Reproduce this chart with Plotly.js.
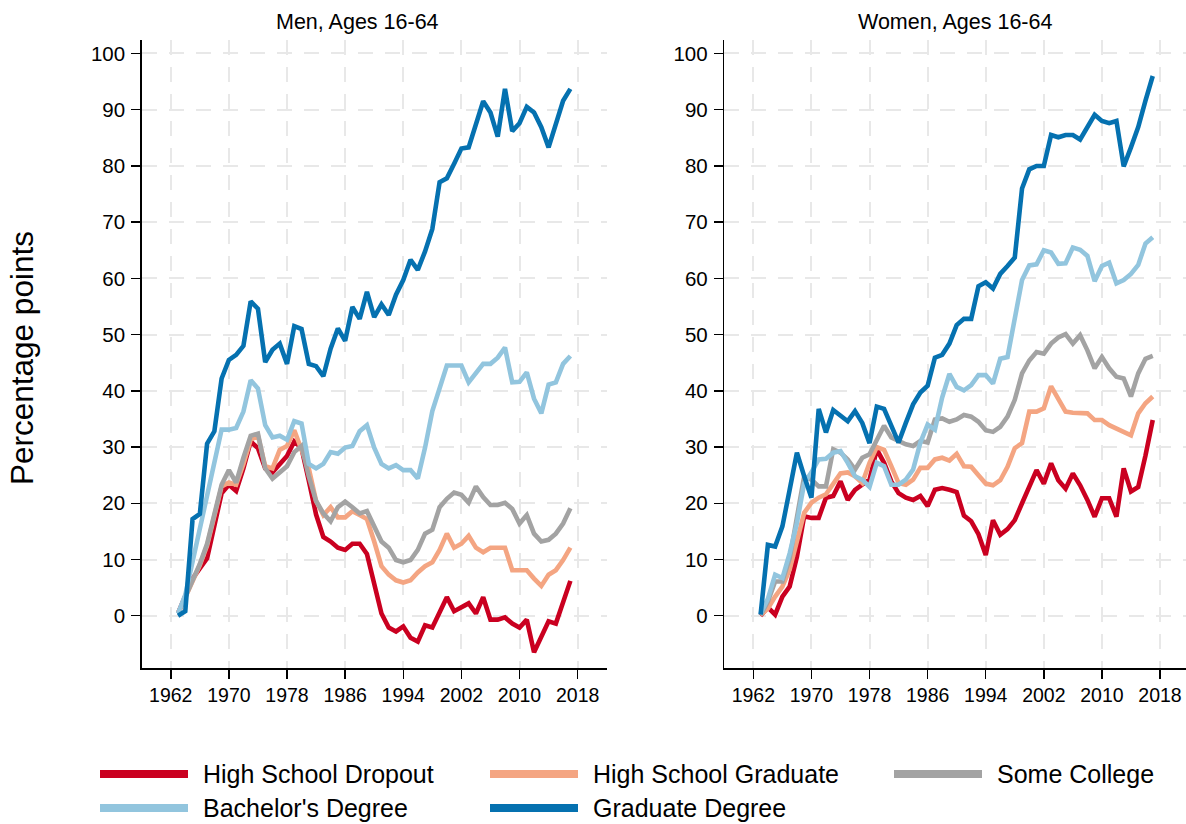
<!DOCTYPE html>
<html>
<head>
<meta charset="utf-8">
<script src="https://cdn.plot.ly/plotly-3.0.1.min.js"></script>
<style>
  html, body { margin: 0; padding: 0; background: #ffffff; }
  #chart { width: 1186px; height: 824px; }
</style>
</head>
<body>
<div id="chart"></div>
<script>
// ---------------- DATA ----------------
const years = [1963,1964,1965,1966,1967,1968,1969,1970,1971,1972,1973,1974,1975,1976,1977,1978,1979,1980,
  1981,1982,1983,1984,1985,1986,1987,1988,1989,1990,1991,1992,1993,1994,1995,1996,1997,1998,1999,2000,
  2001,2002,2003,2004,2005,2006,2007,2008,2009,2010,2011,2012,2013,2014,2015,2016,2017];

const seriesNames = ["High School Dropout", "High School Graduate", "Some College", "Bachelor's Degree", "Graduate Degree"];
const seriesColors = ["#ca0020", "#f4a582", "#a3a3a3", "#92c5de", "#0571b0"];

const panelTitles = ["Men, Ages 16-64", "Women, Ages 16-64"];
const yAxisTitle = "Percentage points";
const xTickVals = [1962, 1970, 1978, 1986, 1994, 2002, 2010, 2018];
const yTickVals = [0, 10, 20, 30, 40, 50, 60, 70, 80, 90, 100];

// Men
const menDropout = [0.4,3.3,6.6,8.4,10.2,16.0,21.8,23.3,22.2,26.2,31.0,29.8,26.2,25.5,26.9,28.4,31.0,29.8,
  24.0,18.0,14.0,13.2,12.1,11.7,12.8,12.8,11.0,5.9,0.4,-2.1,-2.8,-1.9,-3.9,-4.6,-1.7,-2.1,0.4,3.3,
  0.8,1.5,2.2,0.4,3.3,-0.7,-0.7,-0.3,-1.4,-2.1,-0.7,-6.5,-3.9,-1.0,-1.4,2.5,6.2];
const menHSGrad = [0.4,3.3,6.3,9.0,12.5,17.5,23.0,23.7,23.3,27.0,31.3,32.0,26.6,26.2,29.5,30.2,33.0,29.5,
  26.2,20.4,17.9,19.3,17.5,17.5,18.6,17.9,17.2,13.2,8.8,7.3,6.3,5.9,6.3,7.7,8.8,9.5,11.7,14.6,
  12.1,12.8,14.2,12.1,11.3,12.1,12.1,12.1,8.1,8.1,8.1,6.6,5.3,7.3,8.1,9.9,12.1];
const menSomeCollege = [0.4,3.3,6.6,9.2,12.8,18.2,23.3,25.9,23.7,28.1,32.0,32.4,26.2,24.4,25.5,26.6,29.1,30.2,
  24.8,20.4,18.2,16.8,19.3,20.3,19.3,18.2,18.6,16.1,13.2,12.1,9.9,9.5,9.9,11.7,14.6,15.3,19.3,20.8,
  21.9,21.5,20.1,23.0,21.1,19.7,19.7,20.1,19.0,16.4,17.9,14.6,13.2,13.5,14.6,16.4,19.1];
const menBachelor = [0.4,3.7,9.6,15.5,21.4,27.3,33.1,33.1,33.4,36.3,41.9,40.4,33.9,31.7,32.0,31.3,34.6,34.2,
  27.0,26.2,27.0,29.1,28.8,29.9,30.2,32.8,33.9,29.9,27.0,26.2,26.8,25.9,25.9,24.4,29.9,36.4,40.8,44.5,
  44.5,44.5,41.5,43.1,44.8,44.8,45.9,47.7,41.5,41.6,43.3,38.6,36.0,41.1,41.5,44.8,46.2];
const menGraduate = [0.0,0.8,17.2,18.1,30.6,32.8,42.2,45.5,46.4,48.0,55.9,54.6,45.1,47.3,48.4,44.8,51.5,51.0,
  44.8,44.4,42.6,47.5,51.1,48.9,54.9,52.8,57.6,53.1,55.4,53.5,57.1,59.7,63.3,61.5,64.8,68.8,77.1,77.8,
  80.4,83.1,83.3,87.3,91.5,89.5,85.2,93.7,86.2,87.6,90.5,89.5,86.9,83.3,87.3,91.6,93.7];

// Women
const womenDropout = [0.0,1.5,0.2,3.4,5.2,10.5,17.7,17.4,17.4,21.0,21.3,23.9,20.6,22.4,23.3,24.2,29.6,27.2,
  23.9,21.8,21.0,20.6,21.3,19.5,22.4,22.7,22.4,22.0,17.8,16.8,14.5,10.8,17.0,14.4,15.4,17.0,20.0,22.9,
  25.9,23.5,27.1,24.1,22.6,25.3,23.2,20.6,17.6,20.9,20.9,17.6,26.2,22.1,22.9,28.5,34.8];
const womenHSGrad = [0.1,1.3,3.4,5.2,8.2,13.5,18.3,20.1,21.0,21.6,23.6,25.3,25.5,24.8,23.6,27.2,30.0,29.5,
  26.6,23.6,23.3,24.2,26.3,26.3,27.8,28.1,27.6,28.8,26.6,26.5,25.0,23.5,23.2,24.1,26.5,29.8,30.7,36.3,
  36.3,36.9,40.8,38.7,36.3,36.1,36.1,36.0,34.8,34.8,33.9,33.3,32.7,32.1,36.0,37.8,39.0];
const womenSomeCollege = [0.1,2.5,6.1,6.1,10.2,17.6,24.8,24.2,23.0,23.0,29.6,29.0,27.8,26.0,28.1,28.7,31.3,33.8,
  31.7,31.1,30.5,30.2,31.1,30.8,34.9,35.1,34.5,34.9,35.7,35.4,34.5,33.0,32.7,33.6,35.4,38.4,43.1,45.4,
  46.9,46.6,48.4,49.5,50.1,48.4,49.9,47.2,44.0,46.0,44.0,42.5,42.2,39.0,43.1,45.7,46.2];
const womenBachelor = [0.4,3.0,7.3,6.7,11.1,16.5,23.6,25.5,27.8,27.9,29.0,29.3,27.2,24.8,24.2,22.9,27.2,26.6,
  23.3,23.3,24.2,26.0,30.8,34.0,33.1,38.8,43.0,40.7,40.1,41.0,42.8,42.8,41.3,45.7,46.0,53.1,59.7,62.3,
  62.5,65.0,64.6,62.6,62.7,65.5,65.1,64.0,59.5,62.2,62.8,59.1,59.7,60.8,62.4,66.2,67.3];
const womenGraduate = [0.2,12.6,12.3,15.9,22.4,29.0,24.8,21.0,36.8,32.6,36.6,35.5,34.6,36.4,34.3,30.7,37.2,36.8,
  33.8,30.8,34.3,37.6,39.7,40.9,45.9,46.4,48.4,51.7,52.8,52.8,58.6,59.3,58.2,60.8,62.2,63.7,76.0,79.4,
  80.0,80.0,85.5,85.1,85.5,85.5,84.7,86.9,89.1,88.0,87.6,88.0,79.9,83.3,86.9,91.6,96.0];

const menSeries = [menDropout, menHSGrad, menSomeCollege, menBachelor, menGraduate];
const womenSeries = [womenDropout, womenHSGrad, womenSomeCollege, womenBachelor, womenGraduate];

// ---------------- CHART ----------------
const W = 1186, H = 824;
const FONT = "Liberation Sans, Arial, Helvetica, sans-serif";
const px = v => v / W;
const py = v => 1 - v / H;
const LW = 4.6;

const traces = [];
menSeries.forEach((s, i) => traces.push({
  x: years, y: s, type: 'scatter', mode: 'lines', name: seriesNames[i],
  line: {color: seriesColors[i], width: LW}, xaxis: 'x', yaxis: 'y', showlegend: false,
  hoverinfo: 'x+y+name'
}));
womenSeries.forEach((s, i) => traces.push({
  x: years, y: s, type: 'scatter', mode: 'lines', name: seriesNames[i],
  line: {color: seriesColors[i], width: LW}, xaxis: 'x2', yaxis: 'y2', showlegend: false,
  hoverinfo: 'x+y+name'
}));

const xCommon = {
  tickvals: xTickVals, ticks: 'outside', ticklen: 9, tickwidth: 1.5, tickcolor: '#000',
  showline: true, linecolor: '#000', linewidth: 1.5,
  showgrid: true, gridcolor: '#e8e8e8', gridwidth: 2, griddash: '15px,12px',
  zeroline: false, tickfont: {family: FONT, size: 19.5, color: '#000'}, fixedrange: true
};
const yCommon = {
  tickvals: yTickVals, ticks: 'outside', ticklen: 9, tickwidth: 1.5, tickcolor: '#000',
  showline: true, linecolor: '#000', linewidth: 1.5,
  showgrid: true, gridcolor: '#e8e8e8', gridwidth: 2, griddash: '15px,12px',
  zeroline: false, tickfont: {family: FONT, size: 20.5, color: '#000'},
  ticklabelstandoff: 2,
  range: [-9.35, 102.4], fixedrange: true
};
const yDomain = [py(668.3), py(40)];

const annotations = [
  {text: panelTitles[0], x: px(357), y: py(22), xref: 'paper', yref: 'paper', showarrow: false,
   xanchor: 'center', yanchor: 'middle', font: {family: FONT, size: 21.5, color: '#000'}},
  {text: panelTitles[1], x: px(955), y: py(22), xref: 'paper', yref: 'paper', showarrow: false,
   xanchor: 'center', yanchor: 'middle', font: {family: FONT, size: 21.5, color: '#000'}},
  {text: yAxisTitle, x: px(22), y: py(358), xref: 'paper', yref: 'paper', showarrow: false,
   textangle: -90, xanchor: 'center', yanchor: 'middle', font: {family: FONT, size: 31.5, color: '#000'}}
];

// legend (manual, 3 columns x 2 rows)
const legendCols = [100, 490, 894];
const legendRows = [774, 808];
const shapes = [];
seriesNames.forEach((name, i) => {
  const col = i % 3, row = Math.floor(i / 3);
  const x0 = legendCols[col], yy = legendRows[row];
  shapes.push({type: 'line', xref: 'paper', yref: 'paper', x0: px(x0), x1: px(x0 + 88), y0: py(yy), y1: py(yy),
    line: {color: seriesColors[i], width: 8}});
  annotations.push({text: name, x: px(x0 + 101), y: py(yy), xref: 'paper', yref: 'paper', showarrow: false,
    xanchor: 'left', yanchor: 'middle', font: {family: FONT, size: 25, color: '#000'}});
});

const layout = {
  width: W, height: H,
  margin: {l: 0, r: 0, t: 0, b: 0},
  paper_bgcolor: '#fff', plot_bgcolor: '#fff',
  showlegend: false,
  xaxis: Object.assign({}, xCommon, {domain: [px(141.7), px(606.7)], range: [1958, 2022], anchor: 'y'}),
  yaxis: Object.assign({}, yCommon, {domain: yDomain, anchor: 'x'}),
  xaxis2: Object.assign({}, xCommon, {domain: [px(724.3), 1], range: [1958, 2021.58], anchor: 'y2'}),
  yaxis2: Object.assign({}, yCommon, {domain: yDomain, anchor: 'x2'}),
  annotations: annotations,
  shapes: shapes
};

Plotly.newPlot('chart', traces, layout, {displayModeBar: false, staticPlot: true});
</script>
</body>
</html>
